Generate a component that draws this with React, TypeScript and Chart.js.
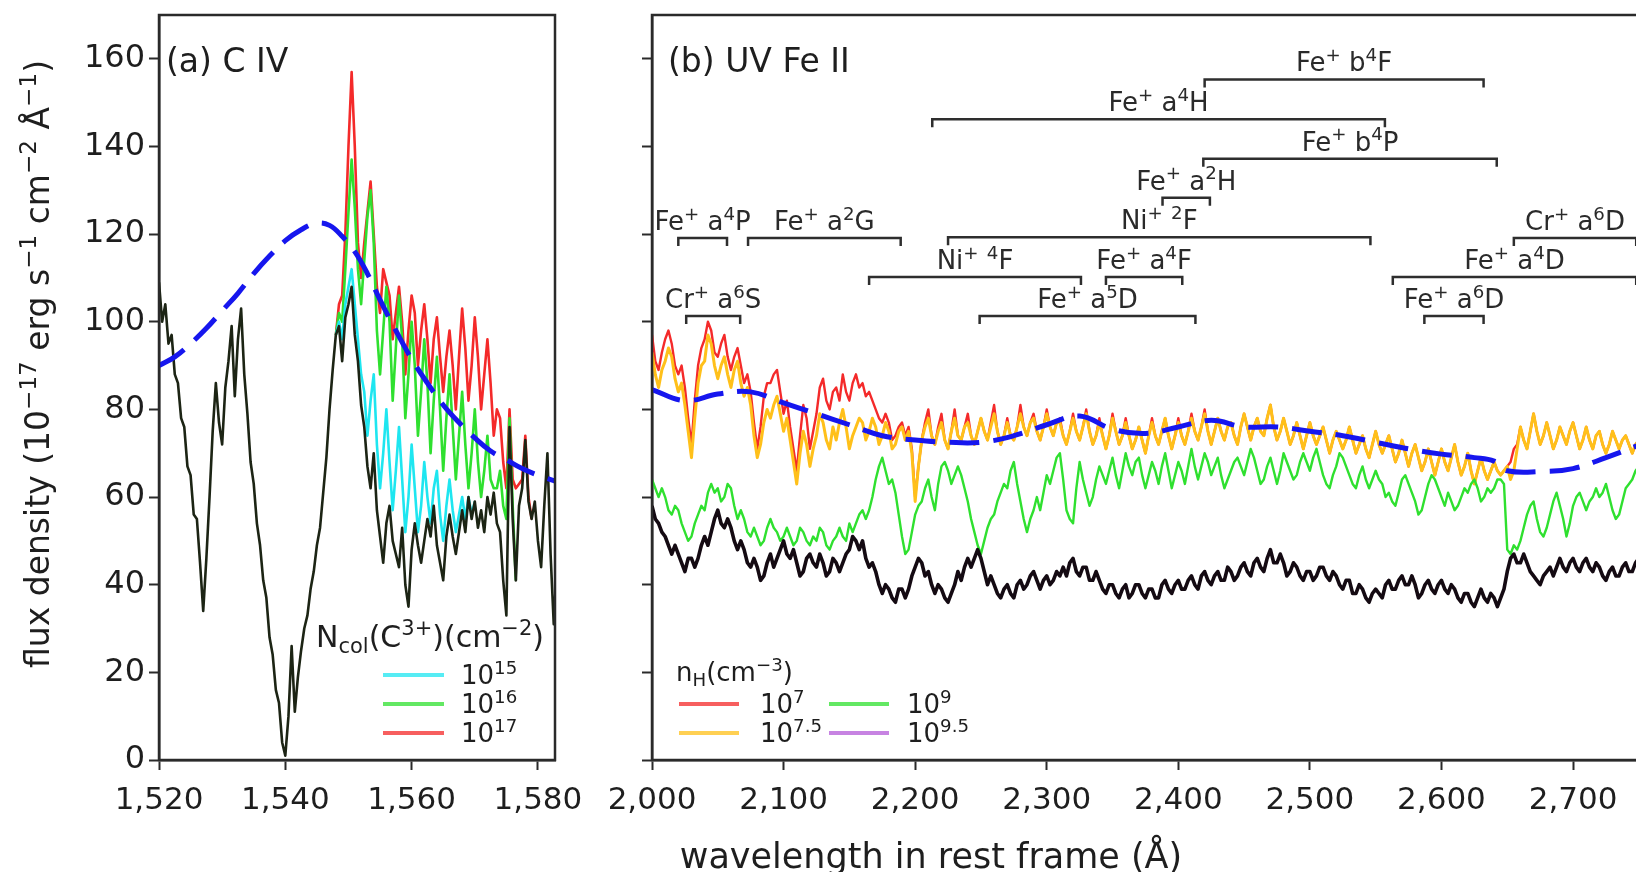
import React, { useEffect, useRef } from 'react';
import { Chart, registerables } from 'chart.js';
Chart.register(...registerables);

const FONT = "'DejaVu Sans', 'Liberation Sans', sans-serif";
Chart.defaults.font.family = FONT;

// ---------------- Panel (a) C IV ----------------
const A_START = 1520;
const A_STEP = 0.5;
const A_X_MIN = 1520;
const A_X_MAX = 1582.7;
const A_X_TICKS = [1520, 1540, 1560, 1580];
const Y_TICKS = [0, 20, 40, 60, 80, 100, 120, 140, 160];
const Y_MAX = 170;

const OBS_A = [
  109, 100, 104, 95, 97, 88, 86, 78, 76, 67,
  65, 56, 55, 45, 34, 46, 60, 75, 86, 77,
  72, 85, 91, 99, 83, 96, 103, 88, 79, 68,
  63, 54, 49, 41, 37, 28, 24, 16, 13, 4,
  1, 10, 26, 11, 19, 25, 30, 33, 39, 43,
  49, 53, 61, 69, 80, 89, 97, 99, 91, 101,
  104, 108, 97, 91, 81, 76, 67, 62, 70, 57,
  51, 45, 54, 58, 50, 47, 44, 53, 40, 35,
  48, 54, 49, 45, 50, 55, 51, 58, 49, 45,
  41, 51, 56, 51, 47, 52, 57, 52, 60, 55,
  59, 53, 57, 52, 60, 56, 61, 54, 52, 41,
  33, 76, 55, 41, 58, 62, 73, 59, 55, 59,
  50, 44, 58, 70, 47, 31, 45,
];

const CYAN_START = 1548;
const CYAN_15 = [
  97, 100, 96, 104, 108, 112, 104, 96, 88, 84,
  74, 82, 88, 72, 62, 70, 80, 68, 57, 66,
  76, 64, 52, 60, 72, 62, 52, 58, 68, 60,
  54, 62, 66, 56, 50, 58, 64, 57, 52, 56,
  60, 55, 60, 56, 59,
];

const GREEN_START = 1548;
const GREEN_16 = [
  97, 102, 100, 112, 125, 137, 126, 112, 104, 114,
  124, 130, 118, 98, 88, 98, 108, 100, 82, 94,
  106, 96, 78, 88, 100, 90, 74, 84, 96, 86,
  70, 82, 92, 80, 66, 78, 88, 76, 64, 74,
  84, 72, 62, 70, 80, 68, 60, 66, 74, 64,
  62, 62, 66, 58, 55, 78, 58, 41,
];

const RED_START = 1548;
const RED_17 = [
  97, 104, 106, 120, 140, 157, 140, 118, 110, 118,
  125, 132, 120, 108, 102, 112, 109, 106, 96, 102,
  108, 100, 88, 98, 106, 102, 90, 98, 104, 96,
  86, 96, 101, 92, 84, 92, 98, 90, 80, 92,
  103, 94, 82, 90, 101, 92, 80, 88, 96, 86,
  74, 80, 78, 68, 62, 80, 64, 62, 63, 64,
  74, 60, 55,
];

const FIT_A_WL = [1520, 1522.5, 1525, 1527.5, 1530, 1532.5, 1535, 1537.5, 1540, 1542.5, 1545, 1547, 1549, 1551, 1553, 1555, 1557.5, 1560, 1562.5, 1565, 1567.5, 1570, 1572.5, 1575, 1577.5, 1580, 1583];
const FIT_A = [90, 92, 95, 98.5, 102.5, 106.5, 111, 115, 118.5, 121, 122.5, 122, 119.5, 116, 111, 105, 98, 91.5, 86, 81, 77, 73.5, 70.5, 68.5, 66.5, 65, 63.5];

// ---------------- Panel (b) UV Fe II ----------------
const B_START = 2000;
const B_STEP = 2.5;
const B_X_MIN = 2000;
const B_X_MAX = 2760;
const B_X_TICKS = [2000, 2100, 2200, 2300, 2400, 2500, 2600, 2700];

const OBS_B = [
  58, 55, 54, 52, 51, 49, 47, 49, 47, 45, 43, 46, 46, 44, 46, 49, 51, 49, 52, 55,
  57, 54, 53, 55, 53, 50, 48, 50, 48, 45, 44, 46, 44, 41, 42, 45, 47, 44, 46, 48,
  50, 47, 46, 48, 45, 42, 43, 46, 47, 45, 44, 47, 45, 42, 43, 46, 45, 43, 45, 47,
  48, 51, 50, 48, 50, 46, 44, 45, 43, 40, 38, 40, 39, 37, 36, 39, 39, 37, 39, 42,
  44, 46, 45, 42, 43, 40, 38, 40, 39, 37, 36, 38, 40, 43, 41, 44, 46, 44, 46, 48,
  46, 43, 40, 42, 40, 38, 37, 39, 40, 38, 37, 40, 41, 39, 40, 42, 43, 41, 39, 41,
  42, 40, 41, 43, 42, 44, 42, 45, 46, 43, 42, 44, 44, 41, 41, 43, 41, 39, 38, 40,
  40, 38, 37, 39, 40, 37, 38, 40, 40, 38, 37, 39, 39, 37, 37, 40, 41, 39, 38, 40,
  41, 39, 39, 41, 42, 40, 39, 42, 43, 41, 40, 42, 43, 41, 41, 44, 43, 41, 42, 44,
  45, 43, 42, 45, 46, 44, 43, 46, 48, 45, 45, 47, 45, 42, 43, 45, 44, 42, 41, 43,
  43, 41, 42, 44, 44, 42, 41, 43, 42, 40, 39, 41, 41, 38, 38, 40, 39, 37, 36, 38,
  39, 38, 37, 40, 41, 39, 39, 41, 42, 40, 40, 42, 40, 37, 38, 40, 41, 39, 38, 40,
  41, 39, 38, 40, 39, 37, 36, 38, 38, 36, 35, 37, 39, 37, 36, 38, 37, 35, 37, 39,
  43, 46, 47, 45, 45, 47, 45, 43, 42, 41, 40, 42, 43, 44, 42, 44, 46, 44, 43, 45,
  46, 44, 43, 45, 46, 44, 43, 45, 44, 42, 41, 43, 44, 42, 42, 44, 45, 43, 43, 45,
  46,
];

const NH_9 = [
  64, 62, 60, 62, 60, 57, 56, 58, 57, 54, 52, 50, 51, 54, 56, 58, 57, 61, 63, 61,
  62, 59, 60, 63, 62, 58, 55, 57, 55, 52, 51, 53, 51, 49, 50, 53, 55, 53, 52, 50,
  51, 53, 51, 49, 50, 53, 52, 50, 49, 51, 50, 53, 52, 49, 48, 50, 51, 53, 51, 50,
  54, 52, 54, 56, 57, 55, 57, 60, 64, 67, 69, 66, 63, 64, 61, 56, 51, 47, 48, 52,
  56, 58, 59, 62, 64, 60, 57, 63, 67, 68, 66, 63, 65, 67, 65, 62, 59, 55, 52, 49,
  47, 50, 53, 55, 56, 59, 61, 63, 62, 66, 68, 63, 59, 55, 52, 55, 57, 60, 57, 61,
  65, 63, 66, 69, 70, 64, 57, 55, 54, 62, 68, 64, 61, 58, 60, 64, 67, 65, 63, 66,
  69, 65, 62, 66, 70, 67, 65, 68, 69, 65, 62, 65, 68, 66, 63, 67, 70, 66, 62, 65,
  68, 66, 63, 67, 71, 67, 64, 67, 70, 68, 65, 67, 69, 65, 62, 64, 66, 68, 69, 67,
  65, 68, 71, 69, 66, 63, 64, 67, 69, 66, 63, 66, 70, 68, 66, 64, 65, 68, 70, 68,
  66, 69, 71, 68, 65, 63, 62, 65, 67, 70, 69, 67, 65, 63, 62, 65, 67, 64, 62, 64,
  66, 64, 63, 60, 61, 59, 58, 61, 64, 65, 63, 61, 59, 56, 57, 60, 63, 65, 64, 62,
  60, 58, 61, 59, 57, 58, 60, 62, 61, 63, 64, 62, 59, 60, 62, 61, 62, 64, 64, 63,
  48, 47, 49, 48, 50, 53, 56, 58, 59, 55, 52, 51, 53, 56, 59, 61, 58, 55, 51, 54,
  58, 60, 61, 59, 57, 59, 60, 62, 60, 61, 63, 60, 57, 55, 56, 59, 62, 63, 64, 66,
  67,
];

const NH_75 = [
  93, 88, 85, 89, 91, 94, 92, 87, 84, 86, 81, 75, 69, 78, 86, 90, 91, 97, 95, 90,
  87, 90, 92, 88, 85, 89, 91, 86, 83, 85, 81, 74, 69, 72, 77, 80, 78, 81, 83, 79,
  75, 78, 73, 68, 63, 70, 75, 72, 67, 71, 74, 79, 77, 73, 71, 76, 73, 77, 80, 76,
  71, 74, 76, 78, 77, 73, 75, 78, 76, 72, 74, 77, 75, 71, 72, 75, 76, 73, 75, 70,
  59, 67, 73, 76, 78, 74, 72, 75, 77, 73, 71, 75, 78, 74, 73, 76, 77, 74, 72, 75,
  78, 75, 73, 76, 79, 75, 72, 74, 77, 74, 73, 76, 79, 76, 74, 77, 78, 75, 73, 76,
  79, 76, 74, 77, 77, 74, 72, 75, 78, 75, 73, 76, 79, 75, 72, 74, 77, 74, 71, 74,
  78, 75, 72, 74, 77, 74, 71, 73, 76, 73, 70, 74, 77, 74, 72, 75, 78, 74, 71, 74,
  77, 74, 72, 75, 78, 75, 73, 76, 79, 75, 72, 75, 78, 75, 73, 76, 77, 74, 72, 76,
  79, 76, 73, 76, 78, 75, 74, 78, 81, 76, 73, 75, 78, 75, 72, 74, 77, 74, 71, 74,
  77, 74, 72, 74, 76, 73, 70, 73, 75, 73, 71, 73, 76, 73, 70, 72, 74, 71, 69, 72,
  75, 72, 70, 72, 74, 71, 68, 70, 73, 70, 67, 70, 72, 69, 66, 68, 71, 68, 65, 68,
  71, 68, 66, 69, 72, 68, 65, 67, 70, 66, 63, 66, 69, 66, 64, 66, 68, 66, 65, 66,
  67, 64, 66, 71, 76, 73, 71, 75, 79, 75, 72, 74, 77, 74, 71, 73, 76, 74, 72, 75,
  77, 74, 71, 73, 76, 73, 71, 74, 75, 72, 70, 72, 75, 73, 71, 73, 74, 72, 70, 72,
  73,
];

const NH_7 = [
  97, 91, 89, 93, 96, 98, 95, 90, 88, 90, 85, 78, 72, 82, 90, 94, 96, 100, 98, 93,
  92, 95, 97, 92, 89, 92, 94, 90, 86, 88, 84, 77, 71, 76, 83, 86, 86, 88, 89, 84,
  79, 82, 76, 71, 66, 74, 81, 78, 71, 75, 79, 85, 87, 82, 80, 84, 85, 82, 88, 84,
  82, 86, 88, 85, 86, 83, 84, 82, 80, 78, 77, 79, 77, 73, 74, 76, 77, 74, 76, 71,
  60, 67, 73, 77, 80, 74, 72, 76, 79, 73, 71, 75, 80, 74, 73, 76, 79, 74, 72, 75,
  78, 75, 73, 77, 81, 75, 72, 74, 78, 74, 73, 76, 81, 76, 74, 77, 79, 75, 73, 76,
  80, 76, 74, 77, 78, 74, 72, 75, 79, 75, 73, 76, 80, 75, 72, 74, 78, 74, 71, 74,
  79, 75, 72, 74, 78, 74, 71, 73, 76, 73, 70, 74, 78, 74, 72, 75, 78, 74, 71, 74,
  78, 74, 72, 75, 79, 75, 73, 76, 80, 75, 72, 75, 78, 75, 73, 76, 77, 74, 72, 76,
  79, 76, 73, 76, 78, 75, 74, 78, 81, 76, 73, 75, 78, 75, 72, 74, 77, 74, 71, 74,
  77, 74, 72, 74, 76, 73, 70, 73, 75, 73, 71, 73, 76, 73, 70, 72, 74, 71, 69, 72,
  75, 72, 70, 72, 74, 71, 68, 70, 73, 70, 67, 70, 72, 69, 66, 68, 71, 68, 65, 68,
  71, 68, 66, 69, 72, 68, 65, 67, 70, 66, 63, 66, 69, 66, 64, 66, 68, 66, 65, 66,
  67, 68, 71, 72, 76, 73, 71, 75, 79, 75, 72, 74, 77, 74, 71, 73, 76, 74, 72, 75,
  77, 74, 71, 73, 76, 73, 71, 74, 75, 72, 70, 72, 75, 73, 71, 73, 74, 72, 70, 72,
  73,
];

const FIT_B_WL = [2000, 2025, 2050, 2075, 2100, 2125, 2150, 2175, 2200, 2225, 2250, 2275, 2300, 2325, 2350, 2375, 2400, 2425, 2450, 2475, 2500, 2525, 2550, 2575, 2600, 2625, 2640, 2650, 2675, 2700, 2725, 2760];
const FIT_B = [84.5, 82, 83.5, 84, 81.5, 79, 76.5, 74, 73, 72.5, 72.5, 74, 76.5, 78.5, 75.5, 74.5, 76, 77.5, 76, 76, 75, 74, 72.5, 71, 69.8, 69, 68.2, 66, 65.8, 66.5, 69, 73];

// line-identification brackets
const ANN_LABELS = ['Fe^{+} b^{4}F', 'Fe^{+} a^{4}H', 'Fe^{+} b^{4}P', 'Fe^{+} a^{2}H', 'Ni^{+} ^{2}F', 'Fe^{+} a^{4}P', 'Fe^{+} a^{2}G', 'Cr^{+} a^{6}D', 'Ni^{+} ^{4}F', 'Fe^{+} a^{4}F', 'Fe^{+} a^{4}D', 'Cr^{+} a^{6}S', 'Fe^{+} a^{5}D', 'Fe^{+} a^{6}D'];
const ANN_X0 = [2420, 2213, 2419, 2388, 2225, 2020, 2073, 2655, 2165, 2345, 2563, 2026, 2249, 2587];
const ANN_X1 = [2632, 2557, 2642, 2424, 2546, 2057, 2189, 2748, 2326, 2403, 2748, 2067, 2413, 2632];
const ANN_Y = [155.3, 146.2, 137.2, 128.3, 119.3, 119.1, 119.1, 119.1, 110.2, 110.2, 110.2, 101.3, 101.3, 101.3];

const LEG_A_LABELS = ['10^{15}', '10^{16}', '10^{17}'];
const LEG_B_LABELS = ['10^{7}', '10^{7.5}', '10^{9}', '10^{9.5}'];

// ---------------- colours ----------------
const C_FRAME = '#2a2a2a';
const C_TEXT = '#1e1e1e';
const C_OBS_A = '#1c2414';
const C_OBS_B = '#140a12';
const C_CYAN = '#1ee6f0';
const C_GREEN = '#2fe02f';
const C_RED = '#f42a2a';
const C_GOLD = '#ffc01a';
const C_PURPLE = '#b45ad8';
const C_BLUE = '#1616ee';

// ---------------- helpers ----------------
function pts(start: number, step: number, vals: number[]) {
  return vals.map((v, i) => ({ x: start + i * step, y: v }));
}
function pairs(xs: number[], ys: number[]) {
  return xs.map((x, i) => ({ x, y: ys[i] }));
}

type Seg = { t: string; k: number };
function parseRich(s: string): Seg[] {
  const out: Seg[] = [];
  let buf = '';
  let i = 0;
  while (i < s.length) {
    const c = s[i];
    if ((c === '^' || c === '_') && s[i + 1] === '{') {
      if (buf) { out.push({ t: buf, k: 0 }); buf = ''; }
      const end = s.indexOf('}', i);
      out.push({ t: s.slice(i + 2, end), k: c === '^' ? 1 : -1 });
      i = end + 1;
    } else {
      buf += c;
      i++;
    }
  }
  if (buf) out.push({ t: buf, k: 0 });
  return out;
}

function drawRich(ctx: CanvasRenderingContext2D, s: string, x: number, y: number, size: number, align: string, color: string) {
  const segs = parseRich(s);
  const f = (sz: number) => `${sz}px ${FONT}`;
  let w = 0;
  segs.forEach((sg) => { ctx.font = f(sg.k ? size * 0.7 : size); w += ctx.measureText(sg.t).width; });
  let cx = align === 'center' ? x - w / 2 : align === 'right' ? x - w : x;
  ctx.fillStyle = color;
  ctx.textAlign = 'left';
  ctx.textBaseline = 'alphabetic';
  segs.forEach((sg) => {
    const sz = sg.k ? size * 0.7 : size;
    ctx.font = f(sz);
    const dy = sg.k === 1 ? -size * 0.4 : sg.k === -1 ? size * 0.2 : 0;
    ctx.fillText(sg.t, cx, y + dy);
    cx += ctx.measureText(sg.t).width;
  });
}

function legendLine(ctx: CanvasRenderingContext2D, x0: number, x1: number, y: number, color: string) {
  ctx.save();
  ctx.globalAlpha = 0.75;
  ctx.strokeStyle = color;
  ctx.lineWidth = 4;
  ctx.beginPath();
  ctx.moveTo(x0, y);
  ctx.lineTo(x1, y);
  ctx.stroke();
  ctx.restore();
}

function frame(chart: any) {
  const { ctx, chartArea: a } = chart;
  ctx.save();
  ctx.strokeStyle = C_FRAME;
  ctx.lineWidth = 2.5;
  ctx.strokeRect(a.left, a.top, a.right - a.left, a.bottom - a.top);
  ctx.restore();
}

function axisCommon(ticks: number[], tickFontSize: number, showLabels: boolean, isX: boolean, fitSize: number) {
  return {
    type: 'linear',
    afterBuildTicks: (s: any) => { s.ticks = ticks.map((v) => ({ value: v })); },
    afterFit: (s: any) => {
      if (isX) { s.height = fitSize; s.paddingLeft = 0; s.paddingRight = 0; }
      else { s.width = fitSize; s.paddingTop = 0; s.paddingBottom = 0; }
    },
    grid: { drawOnChartArea: false, drawTicks: true, tickLength: 10, tickWidth: 2, tickColor: C_FRAME },
    border: { display: true, color: C_FRAME, width: 2.5 },
    ticks: {
      display: showLabels,
      autoSkip: false,
      maxRotation: 0,
      minRotation: 0,
      padding: isX ? 12 : 4,
      color: C_TEXT,
      font: { size: tickFontSize, family: FONT },
      callback: (v: any) => Number(v).toLocaleString('en-US'),
    },
  };
}

function lineDs(data: any[], color: string, width: number, extra: any = {}) {
  return {
    data,
    borderColor: color,
    backgroundColor: color,
    borderWidth: width,
    pointRadius: 0,
    tension: 0,
    fill: false,
    clip: 0,
    borderJoinStyle: 'round',
    ...extra,
  };
}

const leftPlugin = {
  id: 'leftDecor',
  afterDraw(chart: any) {
    const ctx = chart.ctx as CanvasRenderingContext2D;
    frame(chart);
    drawRich(ctx, '(a) C IV', 166, 72, 33, 'left', C_TEXT);
    // legend
    drawRich(ctx, 'N_{col}(C^{3+})(cm^{−2})', 430, 647, 30, 'center', C_TEXT);
    const rows = [675, 704, 733];
    const cols = [C_CYAN, C_GREEN, C_RED];
    rows.forEach((ry, i) => {
      legendLine(ctx, 383, 444, ry, cols[i]);
      drawRich(ctx, LEG_A_LABELS[i], 461, ry + 9, 26, 'left', C_TEXT);
    });
    // y-axis title
    ctx.save();
    ctx.translate(38, 364);
    ctx.rotate(-Math.PI / 2);
    drawRich(ctx, 'flux density (10^{−17} erg s^{−1} cm^{−2} Å^{−1})', 0, 11, 33, 'center', C_TEXT);
    ctx.restore();
  },
};

const rightPlugin = {
  id: 'rightDecor',
  afterDraw(chart: any) {
    const ctx = chart.ctx as CanvasRenderingContext2D;
    const xs = chart.scales.x;
    const ys = chart.scales.y;
    frame(chart);
    drawRich(ctx, '(b) UV Fe II', 68, 72, 33, 'left', C_TEXT);
    // brackets
    ctx.save();
    ctx.strokeStyle = '#2e2e2e';
    ctx.lineWidth = 2.5;
    ANN_LABELS.forEach((lab, i) => {
      const x0 = xs.getPixelForValue(ANN_X0[i]);
      const x1 = xs.getPixelForValue(ANN_X1[i]);
      const y = ys.getPixelForValue(ANN_Y[i]);
      ctx.beginPath();
      ctx.moveTo(x0, y + 8);
      ctx.lineTo(x0, y);
      ctx.lineTo(x1, y);
      ctx.lineTo(x1, y + 8);
      ctx.stroke();
      drawRich(ctx, lab, (x0 + x1) / 2, y - 8, 26, 'center', '#2a2a2a');
    });
    ctx.restore();
    // legend
    drawRich(ctx, 'n_{H}(cm^{−3})', 76, 681, 26, 'left', C_TEXT);
    const cols = [C_RED, C_GOLD, C_GREEN, C_PURPLE];
    const lx = [79, 79, 229, 229];
    const tx = [160, 160, 307, 307];
    const ry = [704, 733, 704, 733];
    cols.forEach((c, i) => {
      legendLine(ctx, lx[i], lx[i] + 60, ry[i], c);
      drawRich(ctx, LEG_B_LABELS[i], tx[i], ry[i] + 9, 26, 'left', C_TEXT);
    });
    // shared x-axis title
    drawRich(ctx, 'wavelength in rest frame (Å)', 331, 868, 35, 'center', C_TEXT);
  },
};

function leftConfig(): any {
  return {
    type: 'line',
    data: {
      datasets: [
        lineDs(pairs(FIT_A_WL, FIT_A), C_BLUE, 5, { borderDash: [30, 14], tension: 0.4 }),
        lineDs(pts(A_START, A_STEP, OBS_A), C_OBS_A, 2.6),
        lineDs(pts(CYAN_START, A_STEP, CYAN_15), C_CYAN, 2.6),
        lineDs(pts(GREEN_START, A_STEP, GREEN_16), C_GREEN, 2.6),
        lineDs(pts(RED_START, A_STEP, RED_17), C_RED, 2.6),
      ],
    },
    options: {
      responsive: false,
      animation: false,
      devicePixelRatio: 1,
      layout: { padding: { left: 0, right: 45, top: 15, bottom: 0 } },
      plugins: { legend: { display: false }, tooltip: { enabled: false }, title: { display: false } },
      scales: {
        x: { ...axisCommon(A_X_TICKS, 31, true, true, 112), min: A_X_MIN, max: A_X_MAX },
        y: { ...axisCommon(Y_TICKS, 32, true, false, 159), min: 0, max: Y_MAX },
      },
    },
    plugins: [leftPlugin],
  };
}

function rightConfig(): any {
  return {
    type: 'line',
    data: {
      datasets: [
        lineDs(pairs(FIT_B_WL, FIT_B), C_BLUE, 5, { borderDash: [30, 14], tension: 0.4 }),
        lineDs(pts(B_START, B_STEP, OBS_B), C_OBS_B, 3.6),
        lineDs(pts(B_START, B_STEP, NH_9), C_GREEN, 2.4),
        lineDs(pts(B_START, B_STEP, NH_75), C_GOLD, 3),
        lineDs(pts(B_START, B_STEP, NH_7), C_RED, 2.4),
      ],
    },
    options: {
      responsive: false,
      animation: false,
      devicePixelRatio: 1,
      layout: { padding: { left: 0, right: 48, top: 15, bottom: 0 } },
      plugins: { legend: { display: false }, tooltip: { enabled: false }, title: { display: false } },
      scales: {
        x: { ...axisCommon(B_X_TICKS, 31, true, true, 112), min: B_X_MIN, max: B_X_MAX },
        y: { ...axisCommon(Y_TICKS, 32, false, false, 52), min: 0, max: Y_MAX },
      },
    },
    plugins: [rightPlugin],
  };
}

export default function App() {
  const leftRef = useRef<HTMLCanvasElement>(null);
  const rightRef = useRef<HTMLCanvasElement>(null);
  useEffect(() => {
    const c1 = new Chart(leftRef.current as HTMLCanvasElement, leftConfig());
    const c2 = new Chart(rightRef.current as HTMLCanvasElement, rightConfig());
    return () => {
      c1.destroy();
      c2.destroy();
    };
  }, []);
  return (
    <div style={{ position: 'absolute', left: 0, top: 0, width: 1636, height: 872, overflow: 'hidden', background: '#fff' }}>
      <canvas ref={leftRef} width={600} height={872} style={{ position: 'absolute', left: 0, top: 0, width: 600, height: 872 }} />
      <canvas ref={rightRef} width={1100} height={872} style={{ position: 'absolute', left: 600, top: 0, width: 1100, height: 872 }} />
    </div>
  );
}
